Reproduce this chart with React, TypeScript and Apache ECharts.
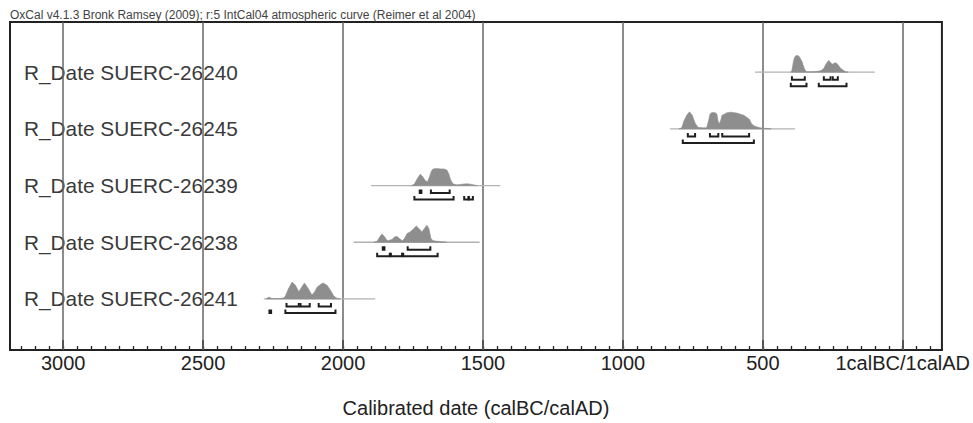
import React, { useEffect, useRef } from 'react';
import * as echarts from 'echarts';

// Calendar years: negative = BC, 0 = 1calBC/1calAD boundary
const sampleNames = [
  'R_Date SUERC-26240',
  'R_Date SUERC-26245',
  'R_Date SUERC-26239',
  'R_Date SUERC-26238',
  'R_Date SUERC-26241',
];
const rowValues = [4, 3, 2, 1, 0];

// extent of the thin (unmodelled) line under each distribution
const priorRanges: [number, number][] = [
  [-528, -100],
  [-832, -385],
  [-1900, -1438],
  [-1962, -1512],
  [-2283, -1885],
];

// [year, relative probability]
const dist26240: [number, number][] = [
  [-400, 0], [-396, 0.11], [-390, 0.69], [-385, 0.92], [-378, 1.0], [-370, 0.92], [-360, 0.63],
  [-352, 0.23], [-345, 0.03], [-335, 0.02], [-320, 0.03], [-300, 0.06], [-290, 0.11], [-282, 0.23],
  [-275, 0.46], [-268, 0.63], [-264, 0.69], [-258, 0.57], [-252, 0.46], [-246, 0.52], [-238, 0.55],
  [-230, 0.4], [-222, 0.23], [-212, 0.11], [-204, 0.03], [-195, 0],
];
const dist26245: [number, number][] = [
  [-800, 0], [-790, 0.06], [-782, 0.46], [-772, 0.8], [-762, 1.0], [-752, 0.8], [-742, 0.34],
  [-732, 0.09], [-715, 0.06], [-701, 0.06], [-694, 0.46], [-689, 0.86], [-682, 0.96], [-670, 0.95],
  [-664, 0.86], [-660, 0.46], [-656, 0.29], [-650, 0.52], [-646, 0.8], [-638, 0.86], [-628, 0.95],
  [-615, 0.98], [-605, 0.96], [-590, 0.92], [-580, 0.86], [-568, 0.8], [-558, 0.69], [-548, 0.57],
  [-540, 0.29], [-530, 0.17], [-520, 0.11], [-510, 0.06], [-490, 0.03], [-470, 0],
];
const dist26239: [number, number][] = [
  [-1755, 0], [-1745, 0.09], [-1735, 0.4], [-1724, 0.67], [-1715, 0.52], [-1706, 0.29], [-1698, 0.23],
  [-1691, 0.52], [-1684, 0.86], [-1678, 0.98], [-1665, 1.0], [-1650, 0.98], [-1640, 0.98], [-1629, 0.92],
  [-1622, 0.69], [-1617, 0.4], [-1610, 0.17], [-1605, 0.09], [-1595, 0.05], [-1580, 0.06], [-1570, 0.09],
  [-1555, 0.1], [-1540, 0.07], [-1530, 0.03], [-1520, 0],
];
const dist26238: [number, number][] = [
  [-1890, 0], [-1878, 0.06], [-1870, 0.29], [-1861, 0.48], [-1852, 0.34], [-1843, 0.11], [-1837, 0.1],
  [-1825, 0.17], [-1815, 0.32], [-1807, 0.34], [-1797, 0.2], [-1788, 0.09], [-1780, 0.23], [-1771, 0.52],
  [-1758, 0.63], [-1748, 0.8], [-1738, 0.96], [-1728, 0.8], [-1718, 0.61], [-1710, 0.8], [-1700, 1.0],
  [-1693, 0.8], [-1686, 0.23], [-1680, 0.11], [-1670, 0.07], [-1655, 0.05], [-1641, 0.02], [-1630, 0],
];
const dist26241: [number, number][] = [
  [-2275, 0], [-2268, 0.09], [-2262, 0.1], [-2255, 0.03], [-2240, 0.02], [-2225, 0.03], [-2212, 0.06],
  [-2206, 0.17], [-2196, 0.57], [-2182, 1.0], [-2170, 0.8], [-2158, 0.42], [-2148, 0.69], [-2138, 0.94],
  [-2125, 0.63], [-2111, 0.23], [-2100, 0.46], [-2093, 0.69], [-2080, 0.86], [-2071, 0.94], [-2057, 0.8],
  [-2045, 0.52], [-2033, 0.17], [-2021, 0.03], [-2010, 0],
];
const distributions = [dist26240, dist26245, dist26239, dist26238, dist26241];

// 68.2% and 95.4% highest probability ranges
const ranges68: [number, number][][] = [
  [[-396, -350], [-282, -258], [-250, -232]],
  [[-768, -742], [-689, -659], [-645, -549]],
  [[-1726, -1720], [-1686, -1619]],
  [[-1858, -1852], [-1769, -1688]],
  [[-2202, -2158], [-2152, -2119], [-2087, -2043]],
];
const ranges95: [number, number][][] = [
  [[-400, -344], [-300, -201]],
  [[-786, -532]],
  [[-1745, -1605], [-1567, -1552], [-1550, -1536]],
  [[-1878, -1833], [-1829, -1789], [-1785, -1662]],
  [[-2263, -2257], [-2206, -2027]],
];

const majorTickValues = [-3000, -2500, -2000, -1500, -1000, -500, 0];
const majorTickLabels = ['3000', '2500', '2000', '1500', '1000', '500', '1calBC/1calAD'];
const axisMin = -3190;
const axisMax = 140;
const minorStep = 50;

const headerText =
  'OxCal v4.1.3 Bronk Ramsey (2009); r:5 IntCal04 atmospheric curve (Reimer et al 2004)';
const axisTitle = 'Calibrated date (calBC/calAD)';

const FONT = '"Liberation Sans", Arial, Helvetica, sans-serif';
const DENS_SCALE = 0.3;

export default function App() {
  const ref = useRef<HTMLDivElement>(null);

  useEffect(() => {
    if (!ref.current) return;
    const chart = echarts.init(ref.current, undefined, { renderer: 'svg' });

    const minorTicks: number[] = [];
    for (let v = Math.ceil(axisMin / minorStep) * minorStep; v <= axisMax; v += minorStep) {
      minorTicks.push(v);
    }

    const option: any = {
      animation: false,
      backgroundColor: '#ffffff',
      title: {
        text: headerText,
        left: 10,
        top: 9,
        padding: 0,
        textStyle: { fontFamily: FONT, fontSize: 12, fontWeight: 'normal', color: '#444' },
      },
      grid: {
        left: 10,
        right: 31,
        top: 22,
        bottom: 67,
        show: true,
        borderColor: '#222',
        borderWidth: 2,
        backgroundColor: 'transparent',
      },
      xAxis: [
        {
          type: 'value',
          min: axisMin,
          max: axisMax,
          position: 'bottom',
          axisLine: { show: true, onZero: false, lineStyle: { color: '#222', width: 2 } },
          axisTick: {
            show: true,
            inside: true,
            length: 4,
            customValues: minorTicks,
            lineStyle: { color: '#222', width: 1.3 },
          },
          axisLabel: {
            show: true,
            customValues: majorTickValues,
            formatter: (v: number) => {
              const idx = majorTickValues.indexOf(v);
              return idx >= 0 ? majorTickLabels[idx] : '';
            },
            margin: 3,
            fontFamily: FONT,
            fontSize: 20,
            color: '#222',
            hideOverlap: false,
          },
          splitLine: { show: false },
          name: axisTitle,
          nameLocation: 'middle',
          nameGap: 48,
          nameTextStyle: { fontFamily: FONT, fontSize: 20, color: '#222' },
        },
        {
          type: 'value',
          min: axisMin,
          max: axisMax,
          position: 'bottom',
          axisLine: { show: false, onZero: false },
          axisTick: {
            show: true,
            inside: true,
            length: 10,
            customValues: majorTickValues,
            lineStyle: { color: '#222', width: 2 },
          },
          axisLabel: { show: false },
          splitLine: { show: false },
        },
      ],
      yAxis: {
        type: 'value',
        min: -0.9,
        max: 4.885,
        axisLine: { show: false },
        axisTick: { show: false },
        splitLine: { show: false },
        axisLabel: {
          show: true,
          inside: true,
          margin: 14,
          customValues: rowValues,
          formatter: (v: number) => {
            const idx = rowValues.indexOf(v);
            return idx >= 0 ? sampleNames[idx] : '';
          },
          fontFamily: FONT,
          fontSize: 20.8,
          color: '#3a3a3a',
        },
      },
      series: [
        {
          type: 'custom',
          xAxisIndex: 0,
          yAxisIndex: 0,
          clip: false,
          z: 3,
          data: rowValues.map((v, i) => [priorRanges[i][0], v]),
          renderItem: (params: any, api: any) => {
            const i = params.dataIndex;
            const row = rowValues[i];
            const children: any[] = [];
            const p0 = api.coord([priorRanges[i][0], row]);
            const p1 = api.coord([priorRanges[i][1], row]);
            const by = p0[1];
            children.push({
              type: 'line',
              shape: { x1: p0[0], y1: by, x2: p1[0], y2: by },
              style: { stroke: '#b2b2b2', lineWidth: 1.3 },
            });
            const pts = distributions[i].map(([x, d]) => api.coord([x, row + d * DENS_SCALE]));
            children.push({
              type: 'polygon',
              shape: { points: pts },
              style: { fill: '#8e8e8e', stroke: '#8e8e8e', lineWidth: 0.6 },
            });
            const bracket = (r: [number, number], off: number) => {
              const a = api.coord([r[0], row]);
              const b = api.coord([r[1], row]);
              const y = by + off;
              return {
                type: 'polyline',
                shape: { points: [[a[0], y - 3.5], [a[0], y], [b[0], y], [b[0], y - 3.5]] },
                style: { stroke: '#1e1e1e', lineWidth: 2, fill: null },
              };
            };
            ranges68[i].forEach((r) => children.push(bracket(r, 7.5)));
            ranges95[i].forEach((r) => children.push(bracket(r, 14)));
            return { type: 'group', children };
          },
          markLine: {
            silent: true,
            symbol: 'none',
            label: { show: false },
            lineStyle: { color: '#666', width: 1.5, type: 'solid' },
            data: majorTickValues.map((v) => ({ xAxis: v })),
            z: 2,
          },
        },
      ],
    };

    chart.setOption(option);
    return () => chart.dispose();
  }, []);

  return (
    <div
      ref={ref}
      style={{ position: 'absolute', left: 0, top: 0, width: 973, height: 423 }}
    />
  );
}
